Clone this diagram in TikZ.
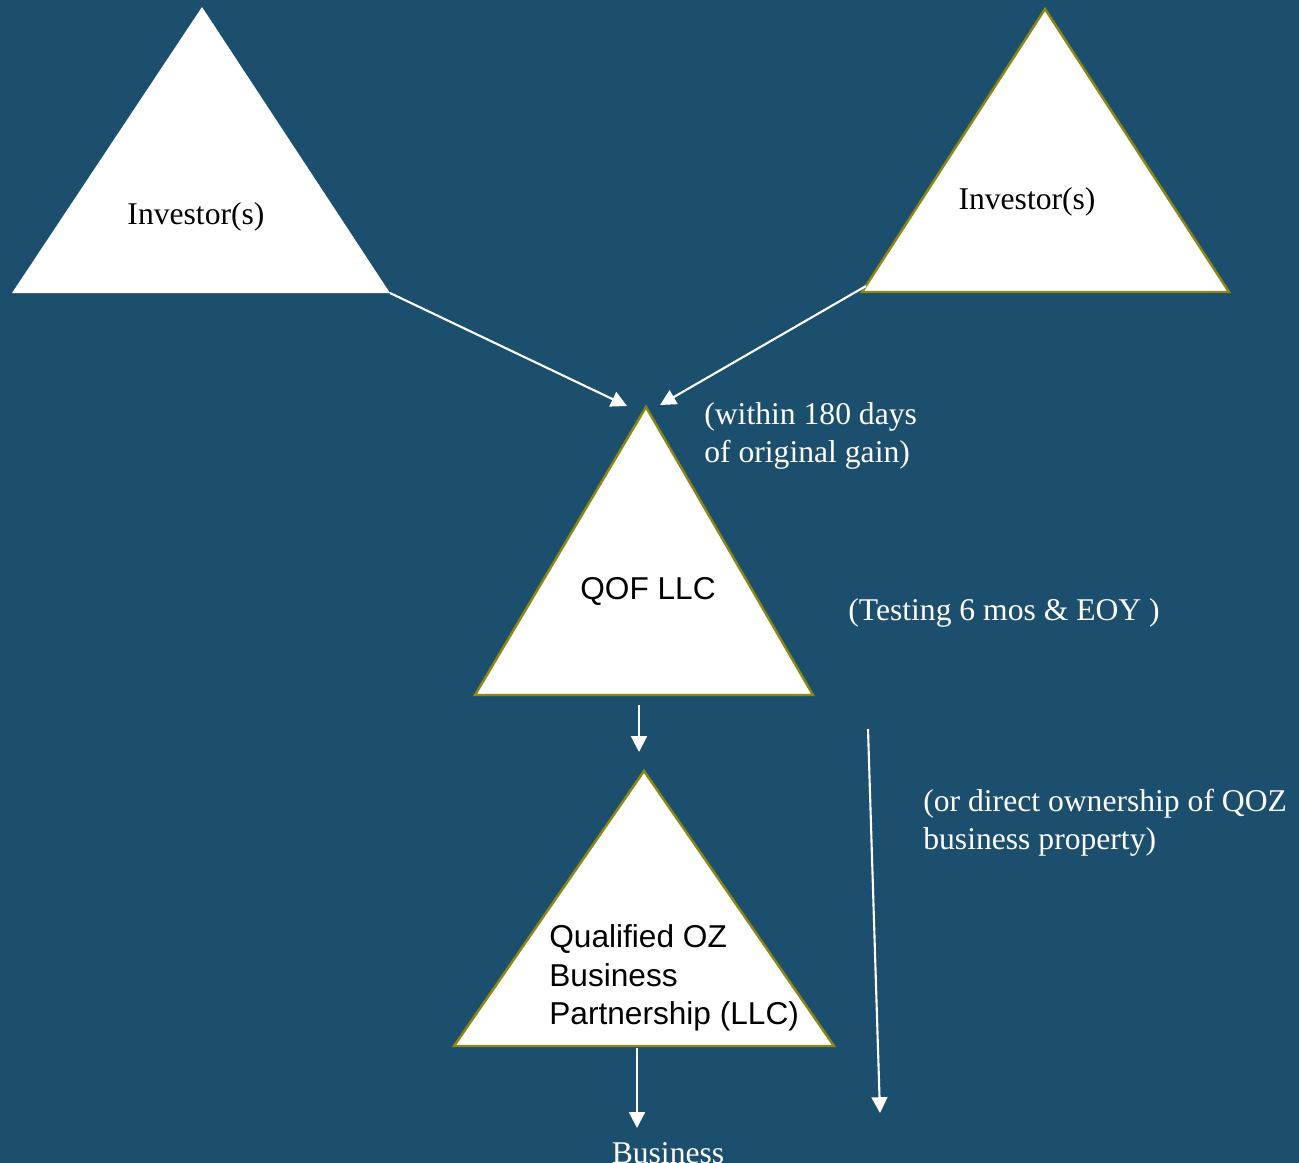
\documentclass[tikz,border=0pt]{standalone}
\usepackage{fontspec}
\setmainfont{Liberation Serif}
\setsansfont{Liberation Sans}
\usetikzlibrary{arrows.meta}
\definecolor{bg}{RGB}{28,79,110}
\definecolor{olive}{RGB}{140,134,20}
\tikzset{
  tri/.style={fill=white,draw=olive,line width=1.4pt,line join=miter},
  trinone/.style={fill=white},
  conn/.style={draw=white,line width=1.2pt,-{Triangle[length=9pt,width=9pt]}},
  lab/.style={text=white,font=\fontsize{18}{21.5}\selectfont,align=left,inner sep=0pt},
  intext/.style={text=black,font=\fontsize{18}{21.5}\selectfont,inner sep=0pt},
  insans/.style={text=black,font=\sffamily\fontsize{18}{22}\selectfont,align=left,inner sep=0pt}
}
\begin{document}
\begin{tikzpicture}[x=0.02cm,y=-0.02cm]
\useasboundingbox (0,0) rectangle (1299,1163);
\fill[bg] (0,0) rectangle (1299,1163);
% corners
\coordinate (a1) at (202,7); \coordinate (b1) at (12,293); \coordinate (c1) at (390,293);
\coordinate (a2) at (1045,9); \coordinate (b2) at (862,292); \coordinate (c2) at (1229,292);
\coordinate (a3) at (646,407); \coordinate (b3) at (475,695); \coordinate (c3) at (813,695);
\coordinate (a4) at (644,771); \coordinate (b4) at (454,1046); \coordinate (c4) at (834,1046);
% triangles
\path[trinone] (a1) -- (b1) -- (c1) -- cycle;
\path[tri] (a2) -- (b2) -- (c2) -- cycle;
\path[tri] (a3) -- (b3) -- (c3) -- cycle;
\path[tri] (a4) -- (b4) -- (c4) -- cycle;
% texts
\node[intext] (inv1) at (196,217) {Investor(s)};
\node[intext] (inv2) at (1027,202) {Investor(s)};
\node[insans] (qof) at (648,591) {QOF LLC};
\node[insans,anchor=west] (qozb) at (549,978) {Qualified OZ\\Business\\Partnership (LLC)};
\node[lab,anchor=west] (within) at (704,436) {(within 180 days\\of original gain)};
\node[lab,anchor=west] (testing) at (848,613) {(Testing 6 mos \& EOY )};
\node[lab,anchor=west] (direct) at (923,823) {(or direct ownership of QOZ\\business property)};
\node[lab] (bus) at (668,1153) {Business};
% connector end points
\coordinate (e1) at (627,406);
\coordinate (s2) at (866,286);
\coordinate (e2) at (660,405);
\coordinate (s3) at (639,705);
\coordinate (e3) at (639,752);
\coordinate (s4) at (637,1048);
\coordinate (e4) at (637,1128);
\coordinate (s5) at (868,729);
\coordinate (e5) at (880,1113);
% connectors
\draw[conn] (c1) -- (e1);
\draw[conn] (s2) -- (e2);
\draw[conn] (s3) -- (e3);
\draw[conn] (s4) -- (e4);
\draw[conn] (s5) -- (e5);
\end{tikzpicture}
\end{document}
